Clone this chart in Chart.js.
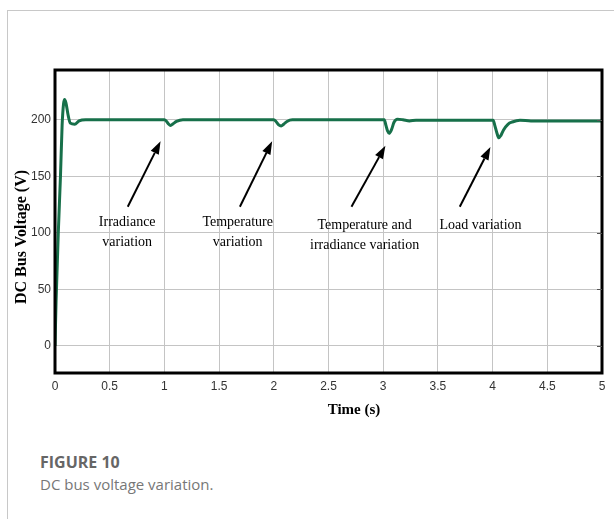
<!DOCTYPE html>
<html>
<head>
<meta charset="utf-8">
<script src="https://cdn.jsdelivr.net/npm/chart.js@4/dist/chart.umd.min.js"></script>
<style>
  body { margin: 0; background: #fff; }
  .card { position: absolute; left: 7px; top: 10px; width: 606px; height: 520px;
          border-left: 1px solid #c8c8c8; border-top: 1px solid #c8c8c8; }
  .wrap { position: absolute; left: 0; top: 0; width: 614px; height: 430px; }
  .cap { position: absolute; left: 40px; font-family: "Open Sans", Lato, sans-serif; }
  .fig { top: 451px; font-size: 16px; font-weight: 700; color: #666; }
  .txt { top: 474px; font-size: 15px; color: #777; }
</style>
</head>
<body>
<div class="card"></div>
<div class="wrap"><canvas id="busChart"></canvas></div>
<div class="cap fig">FIGURE 10</div>
<div class="cap txt">DC bus voltage variation.</div>
<script>
// tiempo (s) y tension del bus DC (V)
const tiempo = [0, 0.01, 0.03, 0.05, 0.065, 0.078, 0.088, 0.1, 0.12, 0.14, 0.18, 0.22, 0.28,
  1.0, 1.02, 1.04, 1.056, 1.08, 1.11, 1.17,
  2.0, 2.02, 2.045, 2.067, 2.09, 2.12, 2.17,
  3.01, 3.025, 3.04, 3.054, 3.075, 3.1, 3.13, 3.18, 3.24, 3.3,
  4.005, 4.02, 4.04, 4.056, 4.075, 4.1, 4.14, 4.18, 4.25, 4.35, 5.0];
const voltaje = [0, 40, 100, 150, 195, 214, 218, 215, 204, 197, 196, 199, 200,
  200, 198.5, 196, 195, 196.5, 198.5, 200,
  200, 198.5, 195.5, 194.5, 196, 198.5, 200,
  200, 195, 190, 188, 191, 198, 200.5, 200, 199, 199.5,
  199.5, 195, 188, 184, 186, 191, 196, 198, 199.5, 199, 199];

const ticksX = [0, 0.5, 1, 1.5, 2, 2.5, 3, 3.5, 4, 4.5, 5];
const ticksY = [0, 50, 100, 150, 200];

// anotaciones: texto, punta de flecha y cola (en unidades de datos)
const notasTexto = [["Irradiance", "variation"], ["Temperature", "variation"],
  ["Temperature and", "irradiance variation"], ["Load variation"]];
const notasPunta = [[0.965, 181], [1.985, 181], [3.02, 177], [3.98, 176]];
const notasCola = [[0.665, 123], [1.69, 123], [2.71, 123], [3.70, 123]];
const notasTextoX = [0.66, 1.67, 2.83, 3.89];
const notasTextoY = [109, 109, 107, 107];

const marco = {
  id: 'marco',
  afterDraw(chart) {
    const { ctx, chartArea: a, scales: { x, y } } = chart;
    ctx.save();
    // marco negro grueso
    ctx.strokeStyle = '#000';
    ctx.lineWidth = 3;
    ctx.strokeRect(a.left, a.top, a.right - a.left, a.bottom - a.top);
    // pequenas marcas en el eje derecho
    ctx.lineWidth = 1;
    ctx.strokeStyle = '#555';
    ticksY.forEach(v => {
      const py = Math.round(y.getPixelForValue(v)) + 0.5;
      ctx.beginPath(); ctx.moveTo(a.right - 5, py); ctx.lineTo(a.right, py); ctx.stroke();
    });
    // flechas y textos
    ctx.fillStyle = '#000';
    ctx.strokeStyle = '#000';
    ctx.font = '14px "Liberation Serif", "Times New Roman", serif';
    ctx.textAlign = 'center';
    ctx.textBaseline = 'middle';
    notasTexto.forEach((lineas, i) => {
      const tx = x.getPixelForValue(notasPunta[i][0]), ty = y.getPixelForValue(notasPunta[i][1]);
      const cx = x.getPixelForValue(notasCola[i][0]), cy = y.getPixelForValue(notasCola[i][1]);
      const ang = Math.atan2(ty - cy, tx - cx);
      const L = 13, W = 4.5;
      const bx = tx - L * Math.cos(ang), by = ty - L * Math.sin(ang);
      ctx.lineWidth = 2;
      ctx.beginPath(); ctx.moveTo(cx, cy); ctx.lineTo(bx, by); ctx.stroke();
      ctx.beginPath();
      ctx.moveTo(tx, ty);
      ctx.lineTo(bx + W * Math.sin(ang), by - W * Math.cos(ang));
      ctx.lineTo(bx - W * Math.sin(ang), by + W * Math.cos(ang));
      ctx.closePath(); ctx.fill();
      const px = x.getPixelForValue(notasTextoX[i]);
      const py = y.getPixelForValue(notasTextoY[i]);
      lineas.forEach((t, k) => ctx.fillText(t, px, py + k * 20));
    });
    // titulos de ejes
    ctx.font = 'bold 15px "Liberation Serif", "Times New Roman", serif';
    ctx.fillText('Time (s)', 354, 410);
    ctx.font = 'bold 16px "Liberation Serif", "Times New Roman", serif';
    ctx.translate(22, 237);
    ctx.rotate(-Math.PI / 2);
    ctx.fillText('DC Bus Voltage (V)', 0, 0);
    ctx.restore();
  }
};

const fuenteTicks = { family: '"Liberation Sans Narrow", "Arial Narrow", "Liberation Sans", sans-serif', size: 12 };

new Chart(document.getElementById('busChart'), {
  type: 'line',
  data: {
    datasets: [{
      data: tiempo.map((t, i) => ({ x: t, y: voltaje[i] })),
      borderColor: '#17704a',
      borderWidth: 3,
      pointRadius: 0,
      cubicInterpolationMode: 'monotone',
      fill: false
    }]
  },
  options: {
    responsive: true,
    maintainAspectRatio: false,
    animation: false,
    layout: { padding: { left: 10, right: 12, top: 70, bottom: 0 } },
    plugins: { legend: { display: false }, tooltip: { enabled: false } },
    scales: {
      x: {
        type: 'linear', min: 0, max: 5,
        afterBuildTicks: s => { s.ticks = ticksX.map(v => ({ value: v })); },
        afterFit: s => { s.height = 57; },
        grid: { color: '#c4c4c4', drawTicks: false },
        border: { display: false },
        ticks: { color: '#333', font: fuenteTicks, padding: 6, maxRotation: 0,
                 callback: v => String(v) }
      },
      y: {
        min: -24, max: 244,
        afterBuildTicks: s => { s.ticks = ticksY.map(v => ({ value: v })); },
        afterFit: s => { s.width = 45; },
        grid: { color: '#c4c4c4', drawTicks: false },
        border: { display: false },
        ticks: { color: '#333', font: fuenteTicks, padding: 4 }
      }
    }
  },
  plugins: [marco]
});
</script>
</body>
</html>
